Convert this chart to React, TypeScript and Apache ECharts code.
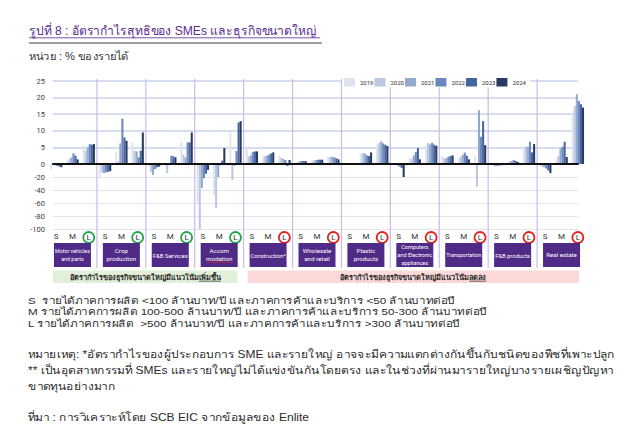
import React, { useEffect, useRef } from 'react';
import * as echarts from 'echarts';

// ---------- data ----------
const YEARS = ['2019', '2020', '2021', '2022', '2023', '2024'];
const YEAR_COLORS = ['#dfe5f0', '#bcc8df', '#93a8cf', '#6a88bd', '#46659e', '#2a3b62'];
const SIZES = ['S', 'M', 'L'];
const GROUPS = [
  'Motor vehicles\nand parts',
  'Crop\nproduction',
  'F&B Services',
  'Accom\nmodation',
  'Construction*',
  'Wholesale\nand retail',
  'Plastic\nproducts',
  'Computers\nand Electronic\nappliances',
  'Transportation',
  'F&B products',
  'Real estate',
];
const RISING_GROUP_COUNT = 4; // first groups: large firms' margins rising
// values per year: [S, M, L] for each of the 11 groups
const V2019 = [-8, 1.0, 5.5, -22, 3.8, 6.5, -4, -3, 6.5, -62, -48, 9.5, 4.5, 2.4, 2.4, 0.3, 1.0, 2.2, 0.1, 3.2, 5.8, -1, 2.0, 5.7, 2.4, 1.7, 2.4, -1, 0.5, 5.2, -3, 1.5, 15];
const V2020 = [-2, 1.5, 4.0, -13, 0.8, 4.0, -12, -14, 2.8, -100, -68, -25, 2.3, 2.4, 1.9, 0.5, 1.1, 2.1, 0.2, 3.3, 6.3, -1.5, 1.6, 6.3, 1.7, 2.2, -35, -2, 0.7, 5.3, -4, 2.4, 17.5];
const V2021 = [-2, 2.0, 5.0, -14, 6.2, 3.8, -17, 0.3, 2.0, -37, -20, -3, 2.6, 2.5, 1.5, 0.8, 1.2, 2.2, 0.2, 3.2, 6.8, -2.5, 2.6, 5.9, 1.8, 2.8, 16.2, -3, 0.9, 5.2, -5, 4.7, 21];
const V2022 = [-3, 3.2, 6.0, -13, 13.7, 2.0, -8, 2.5, 6.5, -22, -2, 3.9, 3.6, 2.8, 1.2, 0.9, 1.3, 2.0, 0.2, 2.6, 6.2, -4, 3.6, 6.4, 2.2, 3.4, 8.2, -3, 1.2, 6.7, -7, 5.2, 19];
const V2023 = [-4, 2.5, 5.8, -12, 8.0, 4.0, -5, 2.3, 6.5, -15, 1.0, 12.5, 3.8, 3.2, -3, 0.9, 1.3, 1.7, 0.1, 2.4, 5.8, -6, 4.8, 5.8, 2.4, 2.5, 12.9, -2, 0.9, 3.5, -10, 6.7, 18];
const V2024 = [-5, 1.4, 6.0, -11, 7.0, 9.5, -4, 2.0, 9.5, -9, 4.8, 12.9, 3.8, 3.5, 1.2, 0.8, 1.3, 1.4, 0.1, 3.5, 5.4, -20, 1.4, 5.5, 2.6, 1.4, 5.7, -2, 0.6, 6.0, -14, 2.1, 17];
const YEAR_VALUES = [V2019, V2020, V2021, V2022, V2023, V2024];
const POS_RANGE = [0, 25, 5];
const NEG_RANGE = [-100, 0, 20];

const TITLE = 'รูปที่ 8 : อัตรากำไรสุทธิของ SMEs และธุรกิจขนาดใหญ่';
const UNIT = 'หน่วย : % ของรายได้';
const BAND_RISE = ['อัตรากำไรของธุรกิจขนาดใหญ่มีแนวโน้ม', 'เพิ่มขึ้น'];
const BAND_FALL = ['อัตรากำไรของธุรกิจขนาดใหญ่มีแนวโน้ม', 'ลดลง'];
const SIZE_NOTES = [
  'S  รายได้ภาคการผลิต <100 ล้านบาท/ปี และภาคการค้าและบริการ <50 ล้านบาทต่อปี',
  'M รายได้ภาคการผลิต 100-500 ล้านบาท/ปี และภาคการค้าและบริการ 50-300 ล้านบาทต่อปี',
  'L รายได้ภาคการผลิต  >500 ล้านบาท/ปี และภาคการค้าและบริการ >300 ล้านบาทต่อปี',
];
const REMARKS = [
  'หมายเหตุ: *อัตรากำไรของผู้ประกอบการ SME และรายใหญ่ อาจจะมีความแตกต่างกันขึ้นกับชนิดของพืชที่เพาะปลูก',
  '** เป็นอุตสาหกรรมที่ SMEs และรายใหญ่ไม่ได้แข่งขันกันโดยตรง และในช่วงที่ผ่านมารายใหญ่บางรายเผชิญปัญหา',
  'ขาดทุนอย่างมาก',
];
const SOURCE = 'ที่มา : การวิเคราะห์โดย SCB EIC จากข้อมูลของ Enlite';

// ---------- layout ----------
const W = 640;
const H = 436;
const FF = '"Liberation Sans",Arial,sans-serif';
const FF_LATIN = 'Roboto,"Liberation Sans",sans-serif';
const GL = 48;
const GW = 538;
const GROUP_W = GW / GROUPS.length;
const TOP_Y = 81;
const ZERO_Y = 164;
const NEG_BOTTOM = 229;
const LINE_L = 53;
const LINE_W = 525;

const CATS: string[] = [];
GROUPS.forEach(() => SIZES.forEach((s) => CATS.push(s)));

let measureCtx: CanvasRenderingContext2D | null = null;
function measure(text: string, font: string) {
  if (!measureCtx) measureCtx = document.createElement('canvas').getContext('2d');
  if (!measureCtx) return text.length * 5;
  measureCtx.font = font;
  return measureCtx.measureText(text).width;
}

function txt(text: string, x: number, y: number, font: string, fill: string, align = 'left', extra: any = {}, sx = 1) {
  return {
    type: 'text',
    z: 20,
    x,
    y,
    scaleX: sx,
    style: { text, x: 0, y: 0, font, fill, textAlign: align, align, textVerticalAlign: 'middle', verticalAlign: 'middle', ...extra },
  };
}

function line(x1: number, y1: number, x2: number, y2: number, stroke: string, lineWidth: number, z = 20) {
  return { type: 'line', z, shape: { x1, y1, x2, y2 }, style: { stroke, lineWidth } };
}

function buildGraphics() {
  const els: any[] = [];
  // title
  const titleFont = `12.5px ${FF}`;
  const titleScale = 291 / measure(TITLE, titleFont);
  els.push(txt(TITLE, 29, 31, titleFont, '#5b2c8f', 'left', {}, titleScale));
  els.push(line(29, 37.8, 29 + 291, 37.8, '#5b2c8f', 0.8));
  els.push(line(29, 43, 322, 43, '#7f7f7f', 1.6));
  const unitFont = `10.5px ${FF}`;
  els.push(txt(UNIT, 29, 56, unitFont, '#333', 'left', {}, 101 / measure(UNIT, unitFont)));

  // group separators
  for (let k = 1; k < GROUPS.length; k++) {
    const x = GL + k * GROUP_W;
    els.push(line(x, 79, x, 268, '#cbb9ee', 1.2, 1));
  }

  // category boxes
  const boxFont = `6.2px ${FF_LATIN}`;
  GROUPS.forEach((g, i) => {
    const cx = GL + (i + 0.5) * GROUP_W;
    els.push({ type: 'rect', z: 15, shape: { x: cx - 18.5, y: 243, width: 37, height: 24 }, style: { fill: '#4f2a86' } });
    const longest = Math.max(...g.split('\n').map((s) => measure(s, boxFont)));
    const sx = Math.min(1, 35 / longest);
    els.push(txt(g, cx, 255, boxFont, '#ffffff', 'center', { lineHeight: 8.2 }, sx));
    if (g.indexOf('modation') >= 0) {
      const mw = measure('modation', boxFont) * sx;
      els.push(line(cx - mw / 2, 262.3, cx + mw / 2, 262.3, '#e02020', 0.7));
    }
  });

  // bands
  const bandFont = `bold 7.3px ${FF}`;
  const riseEnd = GL + RISING_GROUP_COUNT * GROUP_W - 6;
  const bands = [
    { x1: LINE_L, x2: riseEnd, fill: '#e2efd9', parts: BAND_RISE },
    { x1: GL + RISING_GROUP_COUNT * GROUP_W + 4, x2: LINE_L + LINE_W + 1, fill: '#fbd9d9', parts: BAND_FALL },
  ];
  bands.forEach((b) => {
    els.push({ type: 'rect', z: 15, shape: { x: b.x1, y: 270.5, width: b.x2 - b.x1, height: 12.5 }, style: { fill: b.fill } });
    const w1 = measure(b.parts[0], bandFont);
    const w2 = measure(b.parts[1], bandFont);
    const sx = (b.x1 + b.x2) / 2 - (w1 + w2) / 2;
    els.push(txt(b.parts[0], sx, 277, bandFont, '#2a2a2a'));
    els.push(txt(b.parts[1], sx + w1, 277, bandFont, '#2a2a2a'));
    els.push(line(sx + w1, 281.2, sx + w1 + w2, 281.2, '#2a2a2a', 0.7));
  });

  // footnotes
  const noteFont = `9.5px ${FF}`;
  const noteScale = 417 / measure(SIZE_NOTES[0], noteFont);
  SIZE_NOTES.forEach((t, i) => els.push(txt(t, 28, 300 + i * 11.8, noteFont, '#2b2b2b', 'left', {}, noteScale)));
  const remFont = `10.5px ${FF}`;
  const remScale = 588 / measure(REMARKS[0], remFont);
  REMARKS.forEach((t, i) => els.push(txt(t, 28, 354 + i * 16, remFont, '#2b2b2b', 'left', {}, remScale)));
  els.push(txt(SOURCE, 28, 417, remFont, '#2b2b2b', 'left', {}, remScale));
  return els;
}

export default function App() {
  const ref = useRef<HTMLDivElement>(null);
  useEffect(() => {
    document.body.style.margin = '0';
    if (!ref.current) return;
    const chart = echarts.init(ref.current, undefined, { renderer: 'svg' });

    const posSeries = YEARS.map((y, i) => ({
      name: y,
      type: 'bar',
      xAxisIndex: 0,
      yAxisIndex: 0,
      data: YEAR_VALUES[i].map((v) => (v > 0 ? v : '-')),
      itemStyle: { color: YEAR_COLORS[i] },
      barGap: '0%',
      barCategoryGap: '24%',
    }));
    const negSeries = YEARS.map((y, i) => ({
      name: y,
      type: 'bar',
      xAxisIndex: 1,
      yAxisIndex: 1,
      data: YEAR_VALUES[i].map((v) => (v < 0 ? v : '-')),
      itemStyle: { color: YEAR_COLORS[i] },
      barGap: '0%',
      barCategoryGap: '24%',
    }));

    const circle = (color: string) => ({
      color: '#333',
      fontSize: 8,
      fontFamily: FF_LATIN,
      borderColor: color,
      borderWidth: 1.8,
      borderRadius: 6.5,
      width: 11,
      height: 11,
      lineHeight: 11,
      align: 'center',
      verticalAlign: 'middle',
    });

    chart.setOption({
      animation: false,
      textStyle: { fontFamily: FF_LATIN },
      legend: {
        data: YEARS,
        left: 342,
        top: 77,
        itemWidth: 11,
        itemHeight: 8.5,
        itemGap: 1,
        icon: 'rect',
        backgroundColor: '#ffffff',
        padding: [1, 4, 1, 2],
        textStyle: { fontSize: 6, color: '#333', fontFamily: FF_LATIN },
      },
      grid: [
        { left: GL, width: GW, top: TOP_Y, height: ZERO_Y - TOP_Y },
        { left: GL, width: GW, top: ZERO_Y, height: NEG_BOTTOM - ZERO_Y },
        { left: LINE_L, width: LINE_W, top: TOP_Y, height: ZERO_Y - TOP_Y },
        { left: LINE_L, width: LINE_W, top: ZERO_Y, height: NEG_BOTTOM - ZERO_Y },
      ],
      xAxis: [
        { gridIndex: 0, type: 'category', data: CATS, show: false },
        {
          gridIndex: 1,
          type: 'category',
          data: CATS,
          position: 'bottom',
          axisLine: { show: false },
          axisTick: { show: false },
          axisLabel: {
            interval: 0,
            margin: 3,
            fontSize: 8,
            color: '#333',
            fontFamily: FF_LATIN,
            formatter: (v: string, i: number) =>
              v === 'L' ? (Math.floor(i / 3) < RISING_GROUP_COUNT ? '{g|L}' : '{r|L}') : v,
            rich: { g: circle('#1fa64a'), r: circle('#e3201b') },
          },
        },
        {
          gridIndex: 2,
          type: 'value',
          min: 0,
          max: 1,
          z: 10,
          axisLine: { show: true, lineStyle: { color: '#111', width: 2 } },
          axisTick: { show: false },
          axisLabel: { show: false },
          splitLine: { show: false },
        },
        { gridIndex: 3, type: 'value', min: 0, max: 1, show: false },
      ],
      yAxis: [
        { gridIndex: 0, type: 'value', min: POS_RANGE[0], max: POS_RANGE[1], show: false },
        { gridIndex: 1, type: 'value', min: NEG_RANGE[0], max: NEG_RANGE[1], show: false },
        {
          gridIndex: 2,
          type: 'value',
          min: POS_RANGE[0],
          max: POS_RANGE[1],
          interval: POS_RANGE[2],
          axisLine: { show: false },
          axisTick: { show: false },
          axisLabel: { fontSize: 7.5, color: '#404040', margin: 8, fontFamily: FF_LATIN },
          splitLine: { lineStyle: { color: '#c8d2ec', width: 1.5 } },
        },
        {
          gridIndex: 3,
          type: 'value',
          min: NEG_RANGE[0],
          max: NEG_RANGE[1],
          interval: NEG_RANGE[2],
          axisLine: { show: false },
          axisTick: { show: false },
          axisLabel: { fontSize: 7.5, color: '#404040', margin: 8, showMaxLabel: false, fontFamily: FF_LATIN },
          splitLine: { lineStyle: { color: '#e4e4e4', width: 1 } },
        },
      ],
      series: [...posSeries, ...negSeries],
      graphic: buildGraphics(),
    });
    return () => chart.dispose();
  }, []);
  return <div ref={ref} style={{ width: W, height: H }} />;
}
